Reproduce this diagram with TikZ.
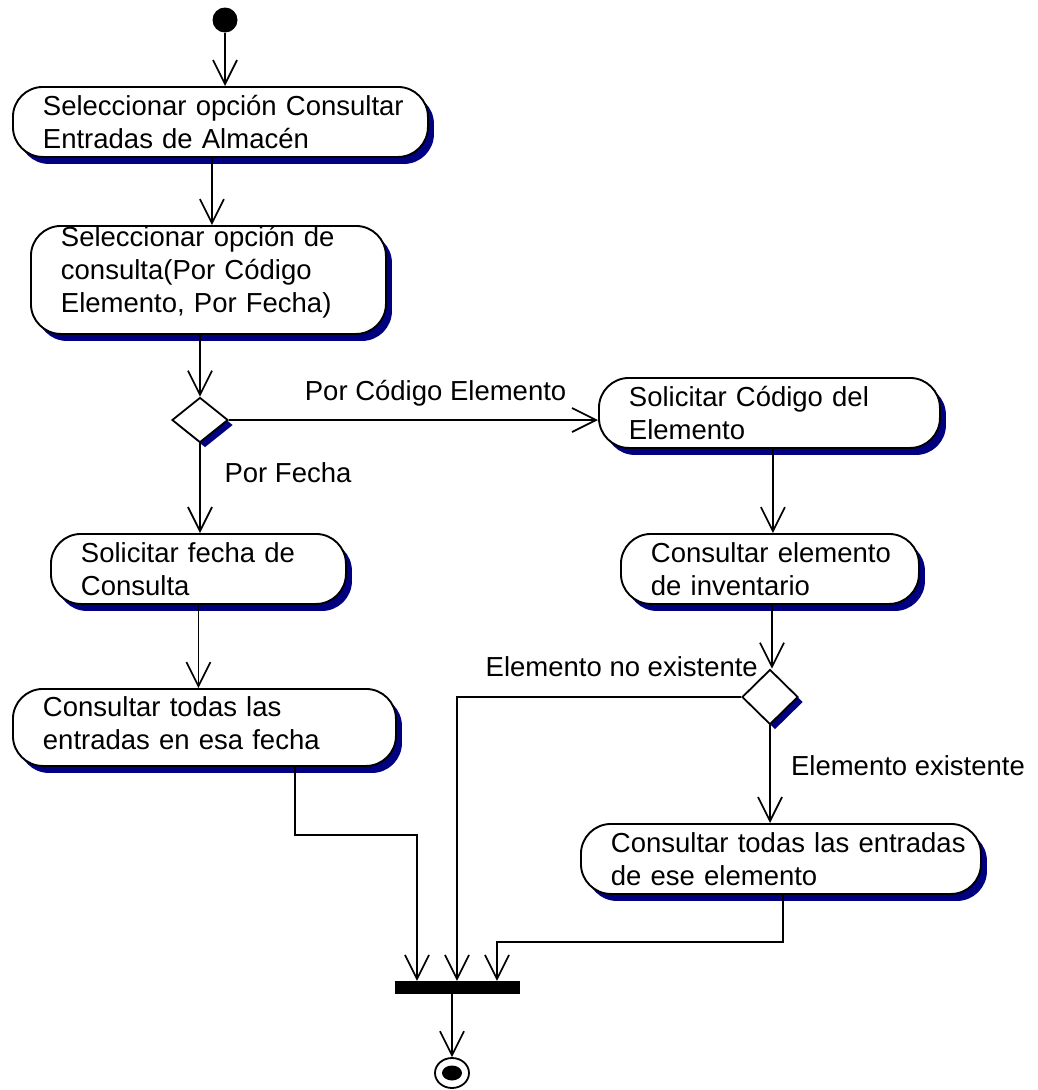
\documentclass[tikz,border=0pt]{standalone}
\usepackage{fontspec}
\setmainfont{Liberation Sans}
\usetikzlibrary{arrows.meta,shapes.geometric,shadows}
\definecolor{shadowblue}{RGB}{0,0,128}
\newcommand{\bxline}[1]{\mbox{#1}}
\begin{document}
\begin{tikzpicture}[x=1pt,y=-1pt,
  txt/.style={font=\fontsize{27.5pt}{33pt}\selectfont},
  actbox/.style={txt, draw, line width=1.9pt, rounded corners=30pt, fill=white,
    align=left, inner xsep=30pt, inner ysep=0pt, anchor=north west,
    drop shadow={shadow xshift=6pt, shadow yshift=-7pt, fill=shadowblue, opacity=1}},
  decision/.style={diamond, draw, line width=1.8pt, fill=white, inner sep=0pt,
    drop shadow={shadow xshift=5pt, shadow yshift=-5pt, fill=shadowblue, opacity=1}},
  arr/.style={line width=1.7pt, -{Straight Barb[length=24pt,width=24pt,line width=1.7pt]}},
  lbl/.style={txt, inner sep=0pt}
]
\useasboundingbox (0,0) rectangle (1038,1090);

% start / end
\node[circle, fill=black, minimum width=25pt, inner sep=0pt] (start) at (225,20) {};
\node[ellipse, draw, line width=1.8pt, minimum width=34pt, minimum height=30pt, inner sep=0pt, fill=white] (end) at (452,1073) {};
\node[ellipse, fill=black, minimum width=20pt, minimum height=15pt, inner sep=0pt] (endin) at (end.center) {};

% activities
\node[actbox, minimum width=415pt, minimum height=70pt, text width=355pt] (b1) at (12,86)
  {\bxline{Seleccionar opción Consultar}\\\bxline{Entradas de Almacén}};
\node[actbox, minimum width=355pt, minimum height=108pt, text width=295pt] (b2) at (30,225)
  {\bxline{Seleccionar opción de}\\\bxline{consulta(Por Código}\\\bxline{Elemento, Por Fecha)}\\[-12pt]\mbox{}};
\node[actbox, minimum width=341pt, minimum height=70pt, text width=281pt] (b3) at (598,377)
  {\bxline{Solicitar Código del}\\\bxline{Elemento}};
\node[actbox, minimum width=298pt, minimum height=70pt, text width=238pt] (b4) at (620,533)
  {\bxline{Consultar elemento}\\\bxline{de inventario}};
\node[actbox, minimum width=400pt, minimum height=70pt, text width=340pt] (b5) at (580,823)
  {\bxline{Consultar todas las entradas}\\\bxline{de ese elemento}};
\node[actbox, minimum width=295pt, minimum height=70pt, text width=235pt] (b6) at (50,533)
  {\bxline{Solicitar fecha de}\\\bxline{Consulta}};
\node[actbox, minimum width=383pt, minimum height=77pt, text width=323pt] (b7) at (12,688)
  {\bxline{Consultar todas las}\\\bxline{entradas en esa fecha}\\[-25pt]\mbox{}};

% decisions
\node[decision, minimum width=56pt, minimum height=45pt] (d1) at (200,420) {};
\node[decision, minimum width=56pt, minimum height=55pt] (d2) at (770,697) {};

% synchronisation bar
\node[rectangle, fill=black, minimum width=125pt, minimum height=13pt, inner sep=0pt] (bar) at (457.5,987.5) {};

% connectors
\draw[arr] (start) -- (start |- b1.north);
\draw[arr] ([xshift=-8.5pt]b1.south) -- ([xshift=-8.5pt]b1.south |- b2.north);
\draw[arr] (d1.north |- b2.south) -- (d1.north);
\draw[arr] (d1.east) -- (b3.west |- d1.east)
  node[lbl, pos=0.56, yshift=27pt] (lcod) {Por Código Elemento};
\draw[arr] (d1.south) -- (d1.south |- b6.north)
  node[lbl, pos=0.33, xshift=88pt] (lfec) {Por Fecha};
\draw[arr] (b6.south) -- (b6.south |- b7.north);
\draw[arr] ([xshift=3.5pt]b3.south) -- ([xshift=3.5pt]b3.south |- b4.north);
\draw[arr] ([xshift=2pt]d2.north |- b4.south) -- ([xshift=2pt]d2.north);
\draw[arr] (d2.west) -| ([xshift=-0.5pt]bar.north)
  node[lbl, pos=0.21, yshift=30pt] (lnoex) {Elemento no existente};
\draw[arr] (d2.south) -- (d2.south |- b5.north)
  node[lbl, pos=0.41, xshift=138pt] (lex) {Elemento existente};
\draw[arr] ([xshift=90.5pt]b7.south) -- ++(0,68) -| ([xshift=-40.5pt]bar.north);
\draw[arr] ([xshift=2pt]b5.south) -- ++(0,47) -| ([xshift=39.5pt]bar.north);
\draw[arr] (end.north |- bar.south) -- (end.north);
\end{tikzpicture}
\end{document}
